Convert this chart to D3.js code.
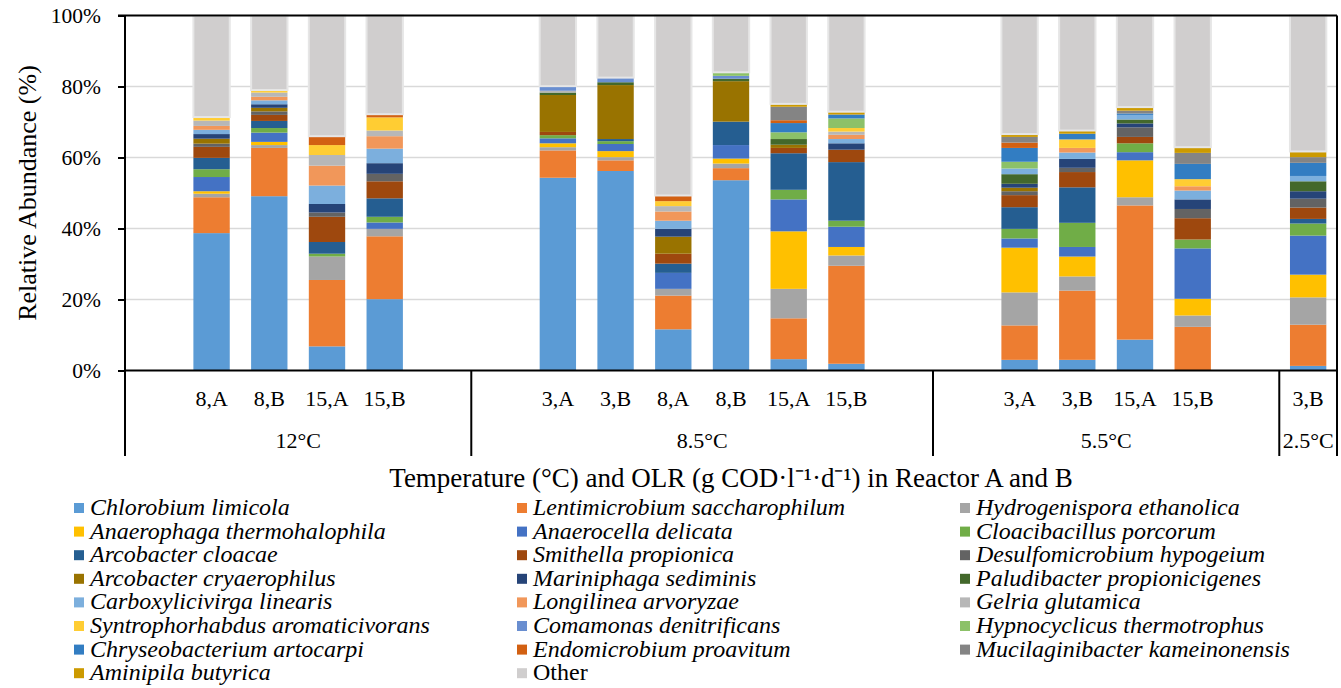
<!DOCTYPE html>
<html>
<head>
<meta charset="utf-8">
<script src="https://cdn.jsdelivr.net/npm/d3@7"></script>
<style>
  body { margin: 0; background: #fff; }
  svg { display: block; }
  text { font-family: "Liberation Serif", "Times New Roman", serif; fill: #000; }
</style>
</head>
<body>
<svg id="chart"></svg>
<script>
// temperature groups and the OLR / reactor slots inside each ("" = empty slot)
const groupNames = ["12°C", "8.5°C", "5.5°C", "2.5°C"];
const groupSlots = [
  ["", "8,A", "8,B", "15,A", "15,B", ""],
  ["", "3,A", "3,B", "8,A", "8,B", "15,A", "15,B", ""],
  ["", "3,A", "3,B", "15,A", "15,B", ""],
  ["3,B"]
];

const speciesNames = [
  "Chlorobium limicola", "Lentimicrobium saccharophilum", "Hydrogenispora ethanolica",
  "Anaerophaga thermohalophila", "Anaerocella delicata", "Cloacibacillus porcorum",
  "Arcobacter cloacae", "Smithella propionica", "Desulfomicrobium hypogeium",
  "Arcobacter cryaerophilus", "Mariniphaga sediminis", "Paludibacter propionicigenes",
  "Carboxylicivirga linearis", "Longilinea arvoryzae", "Gelria glutamica",
  "Syntrophorhabdus aromaticivorans", "Comamonas denitrificans", "Hypnocyclicus thermotrophus",
  "Chryseobacterium artocarpi", "Endomicrobium proavitum", "Mucilaginibacter kameinonensis",
  "Aminipila butyrica", "Other"
];

// relative abundance (%) per species, one value per sample (left to right)
const abundance = [
  [38.7, 49.1, 6.8, 20.1, 54.3, 56.2, 11.6, 53.6, 3.2, 1.9, 3.0, 3.0, 8.7, 0, 1.3],
  [10.1, 13.6, 18.7, 17.7, 7.7, 3.0, 9.5, 3.4, 11.5, 27.6, 9.7, 19.5, 37.8, 12.3, 11.6],
  [1.0, 0.8, 6.6, 2.1, 0.9, 0.9, 1.9, 1.3, 8.3, 2.9, 9.3, 4.0, 2.3, 3.2, 7.7],
  [0.7, 0.9, 0, 0, 1.1, 1.7, 0, 1.4, 16.2, 2.4, 12.6, 5.6, 10.4, 4.7, 6.4],
  [4.0, 2.6, 0, 1.8, 1.4, 2.0, 4.5, 3.8, 9.0, 5.7, 2.6, 2.7, 2.3, 14.2, 11.0],
  [2.2, 1.3, 0.8, 1.6, 0.9, 0.8, 0, 0, 2.7, 1.7, 2.7, 6.8, 2.5, 2.5, 3.4],
  [3.2, 2.0, 3.3, 5.2, 0, 0.6, 2.6, 6.6, 10.3, 16.5, 6.1, 10.0, 0, 0, 1.3],
  [3.1, 1.7, 7.1, 4.8, 0.9, 0, 2.8, 0, 1.5, 3.5, 3.4, 4.3, 1.8, 6.0, 3.2],
  [0.9, 1.0, 1.2, 2.1, 0, 0, 0, 0, 0, 0, 1.1, 1.2, 2.7, 2.6, 2.5],
  [1.4, 1.0, 0, 0, 10.4, 15.2, 4.8, 11.4, 0.9, 0, 1.0, 0, 0, 0, 0],
  [1.3, 1.0, 2.4, 3.0, 0, 0, 2.2, 0, 0, 1.8, 1.1, 2.5, 1.1, 2.7, 2.1],
  [0, 0, 0, 0, 0.7, 0.8, 0, 0.7, 1.6, 0, 2.7, 0, 1.1, 0, 2.8],
  [1.2, 1.1, 5.2, 4.1, 0, 0, 2.3, 0, 0, 1.2, 1.6, 1.8, 1.3, 2.5, 1.5],
  [1.1, 1.0, 5.6, 3.5, 0, 0, 2.6, 0, 0, 1.2, 0, 1.3, 0, 1.2, 0],
  [1.5, 1.2, 3.0, 1.6, 0.5, 0, 1.5, 0, 0, 0.9, 0, 0, 0, 0, 0],
  [1.0, 0.7, 2.8, 3.7, 0, 0, 1.4, 0, 0, 1.0, 0, 2.4, 0, 2.0, 0],
  [0, 0, 0, 0, 1.3, 1.3, 0, 0.8, 0, 0, 0, 0, 0, 0, 0],
  [0, 0, 0, 0, 0, 0, 0, 1.0, 1.9, 2.7, 1.9, 0, 0, 0, 0],
  [0, 0, 0, 0, 0, 0, 0, 0, 2.6, 1.1, 3.9, 1.6, 0.4, 4.3, 3.7],
  [0, 0, 2.5, 0.9, 0, 0, 1.6, 0, 0.8, 0, 1.5, 0, 0, 0, 0],
  [0, 0, 0, 0, 0, 0, 0, 0, 3.8, 0, 1.6, 0, 0.8, 3.1, 1.6],
  [0, 0, 0, 0, 0, 0, 0, 0, 0.8, 0.8, 0.8, 0.9, 1.0, 1.6, 1.6],
  [28.5, 21.0, 34.0, 27.8, 19.9, 17.5, 50.7, 16.0, 24.9, 27.1, 33.4, 32.4, 25.8, 37.1, 38.3]
];

const yTicks = [0, 20, 40, 60, 80, 100];

const colors = [
  "#5B9BD5", "#ED7D31", "#A5A5A5", "#FFC000", "#4472C4", "#70AD47",
  "#255E91", "#9E480E", "#636363", "#997300", "#264478", "#43682B",
  "#7CAFDD", "#F1975A", "#B7B7B7", "#FFCD33", "#698ED0", "#8CC168",
  "#327DC2", "#D26012", "#848484", "#CC9A00", "#D0CECE"
];

const width = 1341, height = 688;
const plot = { left: 125, right: 1337, top: 15.5, bottom: 370.5, axisBottom: 456 };
const serif = "Liberation Serif";

const svg = d3.select("#chart")
  .attr("width", width)
  .attr("height", height)
  .attr("font-family", serif);

// slots -> band scale keys
const slots = [];
groupSlots.forEach((list, g) => list.forEach((label, i) => {
  slots.push({ key: `${g}-${i}`, group: g, label });
}));
const samples = slots.filter((s) => s.label !== "");

const rows = samples.map((s, j) => {
  const row = { key: s.key };
  speciesNames.forEach((name, k) => (row[name] = abundance[k][j]));
  return row;
});

const x = d3.scaleBand()
  .domain(slots.map((s) => s.key))
  .range([plot.left, plot.right])
  .paddingInner(0.37)
  .paddingOuter(0.185);

const y = d3.scaleLinear().domain([0, 100]).range([plot.bottom, plot.top]);

// gridlines
svg.append("g")
  .selectAll("line")
  .data(yTicks.filter((t) => t > 0 && t < 100))
  .join("line")
  .attr("x1", plot.left).attr("x2", plot.right)
  .attr("y1", (d) => y(d)).attr("y2", (d) => y(d))
  .attr("stroke", "#d9d9d9").attr("stroke-width", 1.5);

// stacked bars
const series = d3.stack().keys(speciesNames)(rows);
svg.append("g")
  .selectAll("g")
  .data(series)
  .join("g")
  .attr("fill", (d, i) => colors[i])
  .attr("stroke", (d) => (d.key === "Other" ? "#e6e6e6" : "none"))
  .attr("stroke-width", 2)
  .selectAll("rect")
  .data((d) => d.filter((p) => p[1] - p[0] > 0))
  .join("rect")
  .attr("x", (d) => x(d.data.key))
  .attr("width", x.bandwidth())
  .attr("y", (d) => y(d[1]))
  .attr("height", (d) => y(d[0]) - y(d[1]));

// frame: top + right border, left axis, bottom axis
const frame = svg.append("g").attr("stroke", "#000").attr("stroke-width", 2);
frame.append("line").attr("x1", plot.left - 7).attr("x2", plot.right)
  .attr("y1", plot.top).attr("y2", plot.top);
frame.append("line").attr("x1", plot.right).attr("x2", plot.right)
  .attr("y1", plot.top).attr("y2", plot.axisBottom);
frame.append("line").attr("x1", plot.left).attr("x2", plot.left)
  .attr("y1", plot.top).attr("y2", plot.axisBottom);
frame.append("line").attr("x1", plot.left).attr("x2", plot.right)
  .attr("y1", plot.bottom).attr("y2", plot.bottom);

// y axis ticks and labels
const yAxis = svg.append("g")
  .attr("transform", `translate(${plot.left},0)`)
  .call(d3.axisLeft(y).tickValues(yTicks).tickSize(7).tickPadding(17)
    .tickFormat((d) => d + "%"));
yAxis.attr("font-family", serif);
yAxis.select(".domain").remove();
yAxis.selectAll(".tick line").attr("stroke", "#000").attr("stroke-width", 2);
yAxis.selectAll(".tick text").attr("font-size", 21.5).attr("fill", "#000");

svg.append("text")
  .attr("transform", `translate(36,${(plot.top + plot.bottom) / 2}) rotate(-90)`)
  .attr("text-anchor", "middle")
  .attr("font-size", 26)
  .text("Relative Abundance (%)");

// group separators
const step = x.step();
let start = 0;
const groupSpans = groupSlots.map((list) => {
  const span = [plot.left + start * step, plot.left + (start + list.length) * step];
  start += list.length;
  return span;
});
frame.selectAll(".sep")
  .data(groupSpans.slice(1))
  .join("line")
  .attr("class", "sep")
  .attr("x1", (d) => d[0]).attr("x2", (d) => d[0])
  .attr("y1", plot.bottom).attr("y2", plot.axisBottom);

// sample labels
svg.append("g")
  .selectAll("text")
  .data(samples)
  .join("text")
  .attr("x", (d) => x(d.key) + x.bandwidth() / 2)
  .attr("y", 406)
  .attr("text-anchor", "middle")
  .attr("font-size", 22)
  .text((d) => d.label);

// group labels
svg.append("g")
  .selectAll("text")
  .data(groupNames)
  .join("text")
  .attr("x", (d, i) => (groupSpans[i][0] + groupSpans[i][1]) / 2)
  .attr("y", 448)
  .attr("text-anchor", "middle")
  .attr("font-size", 22)
  .text((d) => d);

// axis title
svg.append("text")
  .attr("x", (plot.left + plot.right) / 2)
  .attr("y", 487)
  .attr("text-anchor", "middle")
  .attr("font-size", 27)
  .text("Temperature (°C) and OLR (g COD·l⁻¹·d⁻¹) in Reactor A and B");

// legend
const legendCols = [74, 517, 960];
const legend = svg.append("g")
  .selectAll("g")
  .data(speciesNames)
  .join("g")
  .attr("transform", (d, i) =>
    `translate(${legendCols[i % 3]},${508 + Math.floor(i / 3) * 23.6})`);
legend.append("rect")
  .attr("x", 0).attr("y", -5).attr("width", 10).attr("height", 10)
  .attr("fill", (d, i) => colors[i]);
legend.append("text")
  .attr("x", 16)
  .attr("y", 7)
  .attr("font-size", 24)
  .attr("font-style", (d) => (d === "Other" ? "normal" : "italic"))
  .text((d) => d);
</script>
</body>
</html>
